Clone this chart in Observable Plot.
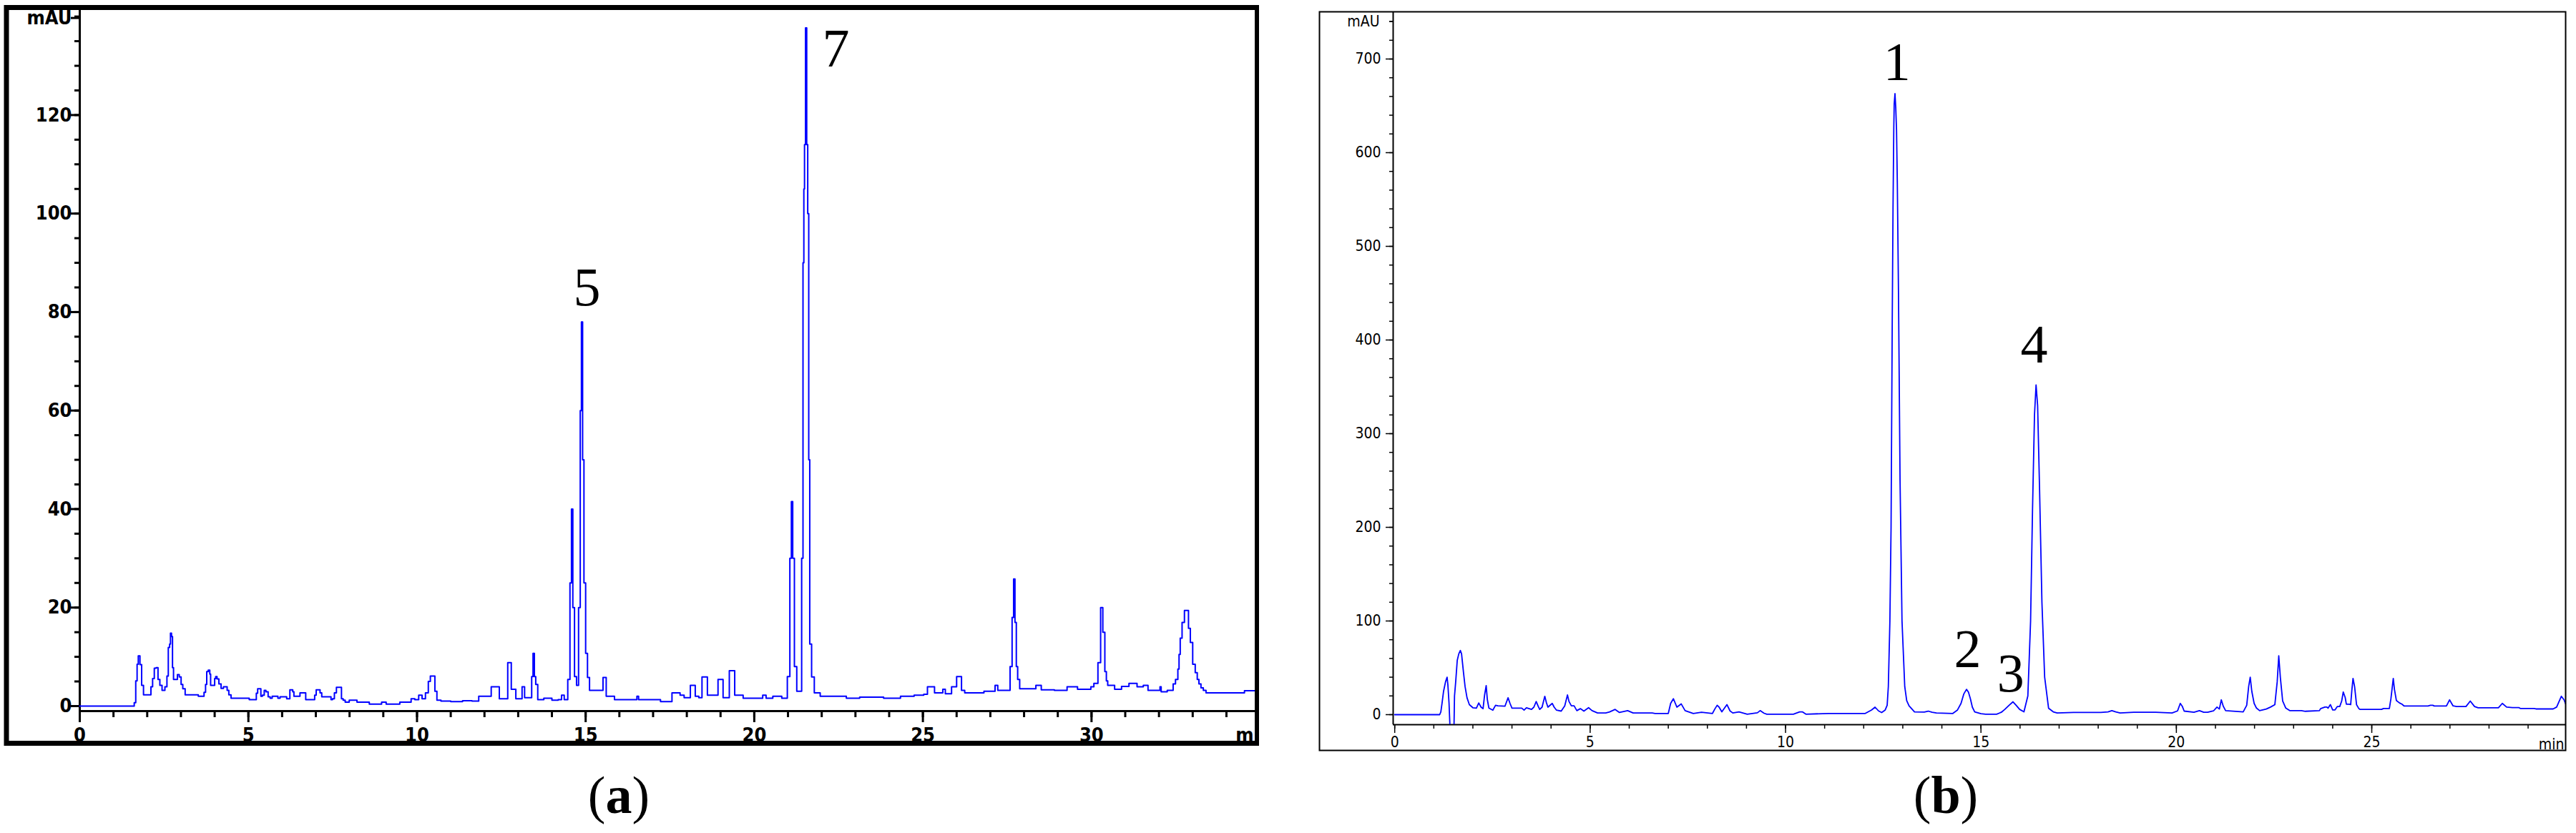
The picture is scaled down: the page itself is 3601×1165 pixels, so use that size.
<!DOCTYPE html>
<html><head><meta charset="utf-8">
<script src="https://cdn.jsdelivr.net/npm/d3@7"></script>
<script src="https://cdn.jsdelivr.net/npm/@observablehq/plot@0.6"></script>
<style>
html,body{margin:0;padding:0;background:#fff;}
#root{position:relative;width:3601px;height:1165px;overflow:hidden;background:#fff;}
.panel{position:absolute;overflow:hidden;}
.cap{position:absolute;font-family:"Liberation Serif","Times New Roman",serif;font-size:74px;line-height:1;transform:translate(-50%,-50%);white-space:nowrap;color:#000;}
.cap b{font-weight:bold;}
</style></head><body><div id="root">
<div id="pa" class="panel" style="left:5px;top:7px;width:1755px;height:1036px"></div>
<div id="pb" class="panel" style="left:1800px;top:0px;width:1801px;height:1060px"></div>
<div class="cap" style="left:865px;top:1112px">(<b>a</b>)</div>
<div class="cap" style="left:2720px;top:1112px">(<b>b</b>)</div>
</div>
<script>
// ---------- Data: chromatogram (a), [time min, mAU] ----------
const traceA = [
[0,0],[1.59,0],[1.64,0.7],[1.68,5.1],[1.72,8.5],[1.75,10.2],[1.82,8.4],[1.85,4.2],[1.93,2.3],[2.08,2.3],
[2.14,3.9],[2.18,5.6],[2.24,7.7],[2.29,7.8],[2.35,5.4],[2.4,4.2],[2.48,3.2],[2.57,3.9],[2.6,6.1],[2.65,11.9],
[2.68,12.6],[2.7,14.8],[2.74,14.1],[2.76,7.8],[2.8,5.4],[2.88,5.4],[2.91,6.4],[2.99,5.9],[3.02,4.4],[3.09,3.5],
[3.16,2.3],[3.48,2.3],[3.55,2.0],[3.66,2.0],[3.71,2.8],[3.75,4.4],[3.78,7.0],[3.84,7.3],[3.87,6.5],[3.89,4.2],
[3.99,4.2],[4.01,5.6],[4.05,6.0],[4.09,5.5],[4.16,4.5],[4.22,3.6],[4.3,3.9],[4.35,3.9],[4.39,3.2],[4.45,2.3],
[4.52,1.6],[5.0,1.6],[5.05,1.3],[5.22,1.3],[5.25,2.6],[5.3,3.5],[5.36,3.5],[5.38,2.0],[5.45,2.2],[5.49,3.2],
[5.55,2.9],[5.62,1.9],[5.67,1.6],[5.74,2.0],[5.85,2.0],[5.9,1.6],[5.98,1.9],[6.12,1.9],[6.15,1.5],[6.2,1.5],
[6.26,3.3],[6.3,3.3],[6.33,2.9],[6.37,2.0],[6.5,2.0],[6.56,2.7],[6.66,2.7],[6.74,1.3],[6.95,1.3],[6.98,2.2],
[7.04,3.3],[7.1,3.3],[7.15,2.7],[7.2,1.9],[7.43,1.9],[7.47,1.3],[7.52,1.5],[7.58,2.7],[7.64,3.8],[7.74,3.8],
[7.78,1.5],[7.84,1.2],[7.9,0.8],[8.08,1.2],[8.2,1.2],[8.24,0.8],[8.93,0.4],[8.97,0.8],[9.2,0.4],[9.78,0.8],
[9.87,1.5],[10.0,1.3],[10.1,2.2],[10.2,1.5],[10.3,2.7],[10.37,5.0],[10.42,6.1],[10.5,6.1],[10.56,3.0],[10.62,1.2],
[10.8,1.0],[11.2,0.9],[11.5,1.1],[11.76,1.0],[11.9,2.0],[12.16,2.0],[12.24,3.9],[12.4,3.9],[12.48,1.5],[12.65,1.5],
[12.73,8.8],[12.78,8.8],[12.81,3.4],[12.89,3.4],[12.97,1.5],[13.1,1.5],[13.13,3.9],[13.17,3.9],[13.21,1.7],[13.38,1.7],
[13.42,6],[13.46,10.7],[13.5,6],[13.54,4.4],[13.62,1.3],[13.9,1.6],[14.1,1.2],[14.27,1.3],[14.3,2.2],[14.43,1.3],
[14.51,5.4],[14.56,25],[14.6,40],[14.64,20],[14.7,6],[14.76,4.2],[14.82,20],[14.86,60],[14.89,78],[14.93,50],
[14.97,25],[15.03,10.7],[15.08,5.8],[15.15,3.2],[15.49,3.2],[15.54,5.8],[15.57,5.8],[15.65,2.0],[15.81,2.0],[15.9,1.3],
[16.5,1.3],[16.54,2.0],[16.6,1.3],[17.19,1.3],[17.25,0.9],[17.52,0.9],[17.6,2.7],[17.76,2.7],[17.84,2.2],[18.0,1.7],
[18.08,1.7],[18.13,4.2],[18.2,4.2],[18.3,2.0],[18.41,1.7],[18.49,5.9],[18.57,5.9],[18.65,2.2],[18.9,2.2],[18.95,5.4],
[19.01,5.4],[19.14,1.7],[19.22,1.7],[19.3,7.2],[19.38,7.2],[19.46,2.2],[19.63,2.2],[19.71,1.6],[20.2,1.6],[20.3,2.2],
[20.4,1.6],[20.7,2.0],[20.93,1.6],[21.03,6],[21.08,30],[21.12,41.5],[21.16,30],[21.22,8],[21.3,3],[21.38,3],
[21.43,30],[21.46,90],[21.48,105],[21.5,114],[21.54,137.7],[21.57,114],[21.6,100],[21.63,50],[21.66,12.6],[21.74,5.9],
[21.82,2.7],[21.93,2.7],[21.98,2.0],[22.71,2.0],[22.75,1.6],[23.5,1.8],[24.17,1.6],[24.5,2.0],[24.98,2.2],[25.07,2.4],
[25.2,3.9],[25.31,3.9],[25.38,2.7],[25.55,2.7],[25.63,3.4],[25.7,2.5],[25.82,2.5],[25.88,3.9],[25.96,3.9],[26.04,6.0],
[26.09,6.0],[26.2,3.2],[26.28,2.7],[26.77,2.7],[26.85,3.0],[27.1,3.0],[27.18,4.2],[27.26,3.2],[27.55,3.2],[27.62,8],
[27.67,18],[27.71,25.8],[27.75,17],[27.79,8],[27.83,5.4],[27.91,3.5],[28.23,3.5],[28.47,4.2],[28.55,3.3],[29.25,3.2],
[29.3,3.9],[29.57,3.9],[29.6,3.4],[29.96,3.4],[30.0,3.9],[30.14,4.6],[30.24,8.8],[30.3,20],[30.37,15],[30.42,7],
[30.46,5.1],[30.5,4.2],[30.67,4.2],[30.7,3.4],[30.88,3.4],[30.9,4.0],[31.09,4.0],[31.13,4.6],[31.34,4.6],[31.36,3.9],
[31.52,3.9],[31.55,4.2],[31.66,4.2],[31.69,3.2],[32.01,3.2],[32.05,3.9],[32.08,2.9],[32.19,2.9],[32.3,3.2],[32.4,3.2],
[32.44,4.5],[32.54,5.4],[32.58,7.5],[32.61,10.5],[32.65,13.8],[32.72,17],[32.79,19.4],[32.85,19.4],[32.9,15.8],[32.96,12.9],
[33.04,8.5],[33.11,6.8],[33.16,5.4],[33.21,4.5],[33.28,3.7],[33.35,3.2],[33.44,2.7],[34.52,2.7],[34.55,3.1],[34.85,3.1]
];
const peakNamesA = ["5", "7"];
const peakTimesA = [15.04, 22.42];
const peakLabelHeightsA = [84.9, 133.4];

// ---------- Data: chromatogram (b), [time min, mAU] ----------
const traceB = [
[0,0],[1.15,0],[1.18,3],[1.21,12],[1.25,25],[1.3,35],[1.34,40],[1.36,32],[1.39,12],[1.43,-30],
[1.51,-30],[1.53,20],[1.56,35],[1.6,58],[1.64,65],[1.68,68.5],[1.71,65],[1.76,45],[1.8,30],[1.85,18],
[1.91,10.7],[2.0,7.4],[2.09,7],[2.15,12.5],[2.21,8],[2.26,6.4],[2.3,21],[2.34,31],[2.37,16],[2.41,7],
[2.51,4.8],[2.58,10],[2.64,9.4],[2.82,9],[2.9,18],[2.95,12],[3.0,7],[3.25,7],[3.31,4.8],[3.37,7.4],
[3.5,5.6],[3.56,8],[3.62,14],[3.67,9],[3.71,5.6],[3.77,8],[3.84,19.6],[3.88,13],[3.92,8],[4.03,12],
[4.08,8],[4.14,4.8],[4.26,3.8],[4.35,9.4],[4.42,21],[4.46,14],[4.52,9.4],[4.59,9.4],[4.66,4.3],[4.75,6.4],
[4.84,3.8],[4.96,7.4],[5.05,4.3],[5.19,1.8],[5.4,1.8],[5.5,3],[5.64,5.6],[5.75,2.3],[5.96,4.3],[6.1,1.8],
[6.59,1.8],[6.66,1.3],[7.0,1.3],[7.06,12],[7.13,17],[7.22,8],[7.33,11.5],[7.43,4.3],[7.64,1.3],[7.85,2.5],
[8.13,1.3],[8.19,6],[8.25,10],[8.3,8],[8.37,3],[8.5,10.7],[8.58,4],[8.65,1.8],[8.81,3],[9.02,0.5],
[9.28,2],[9.35,4.3],[9.45,1.5],[9.52,0.5],[10.2,0.5],[10.36,3],[10.43,3],[10.52,0.5],[11.1,1.3],[11.48,1.3],
[12.04,1.3],[12.2,5],[12.29,8],[12.38,4],[12.46,2.3],[12.55,5],[12.6,10],[12.63,30],[12.67,100],[12.7,200],
[12.73,420],[12.75,540],[12.77,627],[12.78,652],[12.8,663],[12.82,648],[12.84,624],[12.86,568],[12.89,450],[12.93,250],
[12.98,100],[13.05,30],[13.1,15],[13.16,9.4],[13.3,3],[13.55,2.8],[13.65,3.8],[13.75,2.5],[13.86,1.8],[14.28,1.3],
[14.4,5],[14.49,12],[14.56,22],[14.63,27],[14.68,24],[14.73,17],[14.78,8],[14.84,3],[15.0,1],[15.12,0.5],
[15.4,0.5],[15.52,2.5],[15.61,5.6],[15.72,10],[15.82,13.7],[15.9,10],[15.99,5.6],[16.1,3],[16.2,20],[16.27,100],
[16.32,220],[16.37,320],[16.41,352],[16.45,330],[16.5,240],[16.56,120],[16.63,40],[16.73,6.9],[16.85,3],[16.95,1.8],
[17.37,2.3],[18.07,2.3],[18.25,3],[18.35,4.3],[18.45,3],[18.56,1.8],[18.91,2.5],[19.47,2.5],[19.89,1.8],[20.03,4],
[20.1,12],[20.15,9],[20.2,3.8],[20.45,2.5],[20.59,4.3],[20.7,2.5],[20.8,2.5],[20.95,4],[21.04,8.1],[21.1,6],
[21.15,15.8],[21.2,9],[21.26,4.3],[21.71,3],[21.8,10],[21.85,30],[21.89,40],[21.93,25],[21.99,12],[22.05,7],
[22.13,4.3],[22.3,6],[22.41,8.1],[22.52,10.7],[22.58,35],[22.62,62.8],[22.66,40],[22.72,14.5],[22.8,7],[22.9,4.3],
[23.2,4.3],[23.3,3.6],[23.66,4.3],[23.69,6.4],[23.8,8.1],[23.85,8.1],[23.88,6.9],[23.94,10.7],[24.0,5.1],[24.06,5.1],
[24.12,8.7],[24.18,8.7],[24.23,14.5],[24.27,24.2],[24.32,18.3],[24.35,11.2],[24.42,11.2],[24.46,10.7],[24.49,26],[24.52,38.7],
[24.56,30],[24.61,10.7],[24.67,6.4],[24.7,5.6],[25.25,5.6],[25.3,6.6],[25.45,6.6],[25.49,17],[25.55,38.7],[25.58,27],
[25.63,15],[25.71,12.5],[25.77,11.2],[25.83,9.2],[26.44,9.2],[26.5,10],[26.56,10],[26.6,9.2],[26.91,9.2],[26.99,15.8],
[27.08,9.4],[27.17,8.7],[27.41,8.7],[27.52,14.5],[27.63,8.7],[27.72,7.4],[28.24,7.4],[28.34,12],[28.45,8.1],[28.6,7.6],
[28.76,7.6],[28.8,6.6],[29.15,6.6],[29.2,6.1],[29.64,6.1],[29.73,8.1],[29.85,19.6],[29.92,15.8],[29.96,11.5]
];
const peakNamesB = ["1", "2", "3", "4"];
const peakTimesB = [12.85, 14.66, 15.76, 16.36];
const peakLabelHeightsB = [696, 69.5, 43.5, 394.7];

// ---------- Axis ticks ----------
const xMajorA = [0, 5, 10, 15, 20, 25, 30];
const xMinorA = d3.range(0, 35, 1);
const yMajorA = [0, 20, 40, 60, 80, 100, 120];
const yMinorA = d3.range(0, 141, 5);
const yUnitTickA = 140;
const xMajorB = [0, 5, 10, 15, 20, 25];
const xMinorB = d3.range(0, 30, 1);
const yMajorB = [0, 100, 200, 300, 400, 500, 600, 700];
const yMinorB = d3.range(0, 741, 20);
const yUnitTickB = 740;
const unitXa = "m", unitX = "min", unitY = "mAU";

const xDomA = [0, 34.85], yDomA = [-1.02, 141.4];
const xDomB = [-0.04, 29.96], yDomB = [-10.7, 750.4];

const narrow = '"Liberation Sans Narrow","Arial Narrow","DejaVu Sans Condensed","Liberation Sans",Arial,sans-serif';
const serif = '"Liberation Serif","Times New Roman",serif';
const blue = "#0000ff";

const labelsA = peakNamesA.map((s, i) => ({s, t: peakTimesA[i], v: peakLabelHeightsA[i]}));
const labelsB = peakNamesB.map((s, i) => ({s, t: peakTimesB[i], v: peakLabelHeightsB[i]}));

const plotA = Plot.plot({
  width: 1755, height: 1036,
  marginLeft: 106, marginRight: 6, marginTop: 6, marginBottom: 49,
  x: {domain: xDomA, axis: null},
  y: {domain: yDomA, axis: null},
  style: {fontFamily: narrow, fontSize: "27px", fontWeight: "bold", background: "white", color: "black"},
  marks: [
    Plot.axisY({ticks: yMinorA, tickSize: 7, strokeWidth: 3, tickFormat: () => "", label: null}),
    Plot.axisY({ticks: yMajorA, tickSize: 12, tickPadding: -1, strokeWidth: 3, label: null}),
    Plot.axisY({ticks: [yUnitTickA], tickSize: 12, tickPadding: -1, strokeWidth: 3, dy: 2, tickFormat: () => unitY, label: null}),
    Plot.axisX({ticks: xMinorA, tickSize: 9, strokeWidth: 3, tickFormat: () => "", label: null}),
    Plot.axisX({ticks: xMajorA, tickSize: 16, tickPadding: 7, strokeWidth: 3, label: null}),
    Plot.axisX({ticks: [xDomA[1]], tickSize: 0, tickPadding: 23, textAnchor: "end", dx: -2, tickFormat: () => unitXa, label: null}),
    Plot.ruleX([xDomA[0]], {stroke: "black", strokeWidth: 3}),
    Plot.ruleY([yDomA[0]], {stroke: "black", strokeWidth: 3}),
    Plot.line(traceA, {x: d => d[0], y: d => d[1], stroke: blue, strokeWidth: 2, curve: "step"}),
    Plot.text(labelsA, {x: "t", y: "v", text: "s", fontFamily: serif, fontSize: 76, fontWeight: "normal", fill: "black"}),
    Plot.frame({stroke: "black", strokeWidth: 7, insetLeft: -102.5, insetRight: -3, insetTop: -3, insetBottom: -45})
  ]
});
document.getElementById("pa").appendChild(plotA);

const plotB = Plot.plot({
  width: 1801, height: 1060,
  marginLeft: 147, marginRight: 15, marginTop: 16, marginBottom: 47,
  x: {domain: xDomB, axis: null},
  y: {domain: yDomB, axis: null},
  style: {fontFamily: narrow, fontSize: "21px", background: "white", color: "black"},
  marks: [
    Plot.axisY({ticks: yMinorB, tickSize: 5, strokeWidth: 1.5, tickFormat: () => "", label: null}),
    Plot.axisY({ticks: yMajorB, tickSize: 10, tickPadding: 7, strokeWidth: 1.5, label: null}),
    Plot.axisY({ticks: [yUnitTickB], tickSize: 5, tickPadding: 14, strokeWidth: 1.5, tickFormat: () => unitY, label: null}),
    Plot.axisX({ticks: xMinorB, tickSize: 6, strokeWidth: 1.5, tickFormat: () => "", label: null}),
    Plot.axisX({ticks: xMajorB, tickSize: 12, tickPadding: 5, strokeWidth: 1.5, label: null}),
    Plot.axisX({ticks: [xDomB[1]], tickSize: 0, tickPadding: 20, textAnchor: "end", dx: -2, tickFormat: () => unitX, label: null}),
    Plot.ruleX([xDomB[0]], {stroke: "black", strokeWidth: 2}),
    Plot.ruleY([yDomB[0]], {stroke: "black", strokeWidth: 2}),
    Plot.line(traceB, {x: d => d[0], y: d => d[1], stroke: blue, strokeWidth: 1.8, clip: true}),
    Plot.text(labelsB, {x: "t", y: "v", text: "s", fontFamily: serif, fontSize: 76, fill: "black"}),
    Plot.frame({stroke: "black", strokeWidth: 2, insetLeft: -103, insetBottom: -36})
  ]
});
document.getElementById("pb").appendChild(plotB);
</script>
</body></html>
